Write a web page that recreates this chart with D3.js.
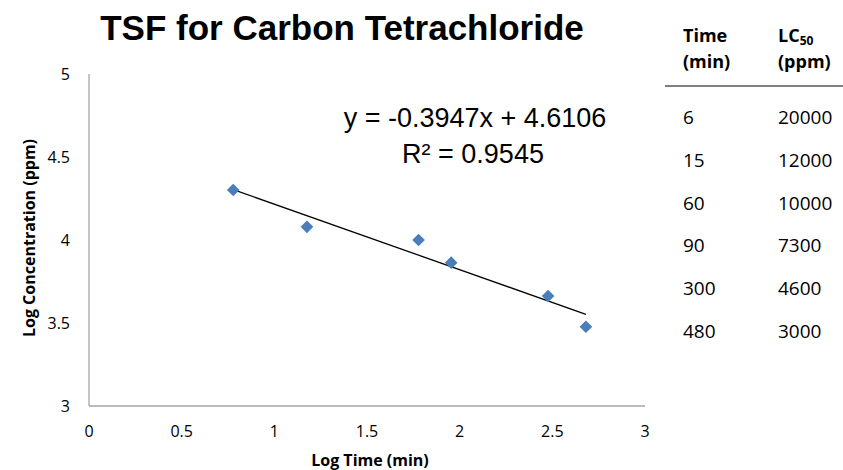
<!DOCTYPE html>
<html>
<head>
<meta charset="utf-8">
<script src="https://cdn.jsdelivr.net/npm/d3@7"></script>
<style>
  body { margin: 0; background: #fff; }
  svg { display: block; }
</style>
</head>
<body>
<div id="graphic"></div>
<script>
(function(d3){

    // Canvas size
    let width = 843, height = 470;

    // Raw data: exposure time and LC50
    let times = [6, 15, 60, 90, 300, 480];
    let lc50 = [20000, 12000, 10000, 7300, 4600, 3000];

    // Fitted trend line
    let slope = -0.3947, intercept = 4.6106, rSquared = 0.9545;

    // Axis ticks
    let xTicks = [0, 0.5, 1, 1.5, 2, 2.5, 3];
    let yTicks = [3, 3.5, 4, 4.5, 5];

    let svg = d3.select('#graphic')
                .append('svg')
                .attr('width', width)
                .attr('height', height);

    let x = d3.scaleLinear().domain([0, 3]).range([89, 645]);
    let y = d3.scaleLinear().domain([3, 5]).range([406, 74]);

    let points = times.map((t, i) => ({ lx: Math.log10(t), ly: Math.log10(lc50[i]) }));

    let sans = '"Open Sans", Lato, sans-serif';
    let arial = '"Liberation Sans", Arial, sans-serif';

    // Title
    svg.append('text')
        .attr('x', 342).attr('y', 40)
        .attr('text-anchor', 'middle')
        .style('font', `bold 35px ${arial}`)
        .text('TSF for Carbon Tetrachloride');

    // Axes lines
    svg.append('line')
        .attr('x1', x(0)).attr('x2', x(0))
        .attr('y1', y(5)).attr('y2', y(3))
        .attr('stroke', '#a6a6a6').attr('stroke-width', 1.3);
    svg.append('line')
        .attr('x1', x(0)).attr('x2', x(3))
        .attr('y1', y(3)).attr('y2', y(3))
        .attr('stroke', '#a6a6a6').attr('stroke-width', 1.3);

    let tickFont = `16px ${sans}`;

    svg.selectAll('.xt').data(xTicks).enter().append('text')
        .attr('x', d => x(d)).attr('y', 437)
        .attr('text-anchor', 'middle')
        .style('font', tickFont)
        .text(d => d);

    svg.selectAll('.yt').data(yTicks).enter().append('text')
        .attr('x', 70).attr('y', d => y(d) + 6)
        .attr('text-anchor', 'end')
        .style('font', tickFont)
        .text(d => d);

    // Axis titles
    svg.append('text')
        .attr('x', 370).attr('y', 466)
        .attr('text-anchor', 'middle')
        .style('font', `bold 16px ${sans}`)
        .text('Log Time (min)');
    svg.append('text')
        .attr('transform', 'translate(35 238) rotate(-90)')
        .attr('text-anchor', 'middle')
        .style('font', `bold 16px ${sans}`)
        .text('Log Concentration (ppm)');

    // Trend line
    let xMin = d3.min(points, p => p.lx), xMax = d3.max(points, p => p.lx);
    svg.append('line')
        .attr('x1', x(xMin)).attr('y1', y(slope * xMin + intercept))
        .attr('x2', x(xMax)).attr('y2', y(slope * xMax + intercept))
        .attr('stroke', '#000').attr('stroke-width', 1.3);

    // Diamond markers
    svg.selectAll('.pt').data(points).enter().append('path')
        .attr('d', d3.symbol().type(d3.symbolSquare).size(80)())
        .attr('transform', p => `translate(${x(p.lx)} ${y(p.ly)}) rotate(45)`)
        .attr('fill', '#4a7ebb');

    // Equation
    let eqFont = `27px ${arial}`;
    svg.append('text')
        .attr('x', 475).attr('y', 127)
        .attr('text-anchor', 'middle')
        .style('font', eqFont)
        .text(`y = ${slope}x + ${intercept}`);
    svg.append('text')
        .attr('x', 473).attr('y', 163)
        .attr('text-anchor', 'middle')
        .style('font', eqFont)
        .text(`R² = ${rSquared}`);

    // Data table
    let tFont = `19px ${sans}`;
    let tBold = `bold 18px ${sans}`;
    let colTime = 683, colLc = 778;

    svg.append('text').attr('x', colTime).attr('y', 42).style('font', tBold).text('Time');
    svg.append('text').attr('x', colTime).attr('y', 68).style('font', tBold).text('(min)');
    let lcHead = svg.append('text').attr('x', colLc).attr('y', 42).style('font', tBold);
    lcHead.append('tspan').text('LC');
    lcHead.append('tspan').attr('dy', 3).style('font-size', '12px').text('50');
    svg.append('text').attr('x', colLc).attr('y', 68).style('font', tBold).text('(ppm)');

    svg.append('line')
        .attr('x1', 665).attr('x2', 843)
        .attr('y1', 86).attr('y2', 86)
        .attr('stroke', '#000').attr('stroke-width', 1);

    let rowY = d3.scalePoint().domain(d3.range(times.length)).range([124, 338]);
    times.forEach((t, i) => {
        svg.append('text').attr('x', colTime).attr('y', rowY(i)).style('font', tFont).text(t);
        svg.append('text').attr('x', colLc).attr('y', rowY(i)).style('font', tFont).text(lc50[i]);
    });

})(window.d3);
</script>
</body>
</html>
